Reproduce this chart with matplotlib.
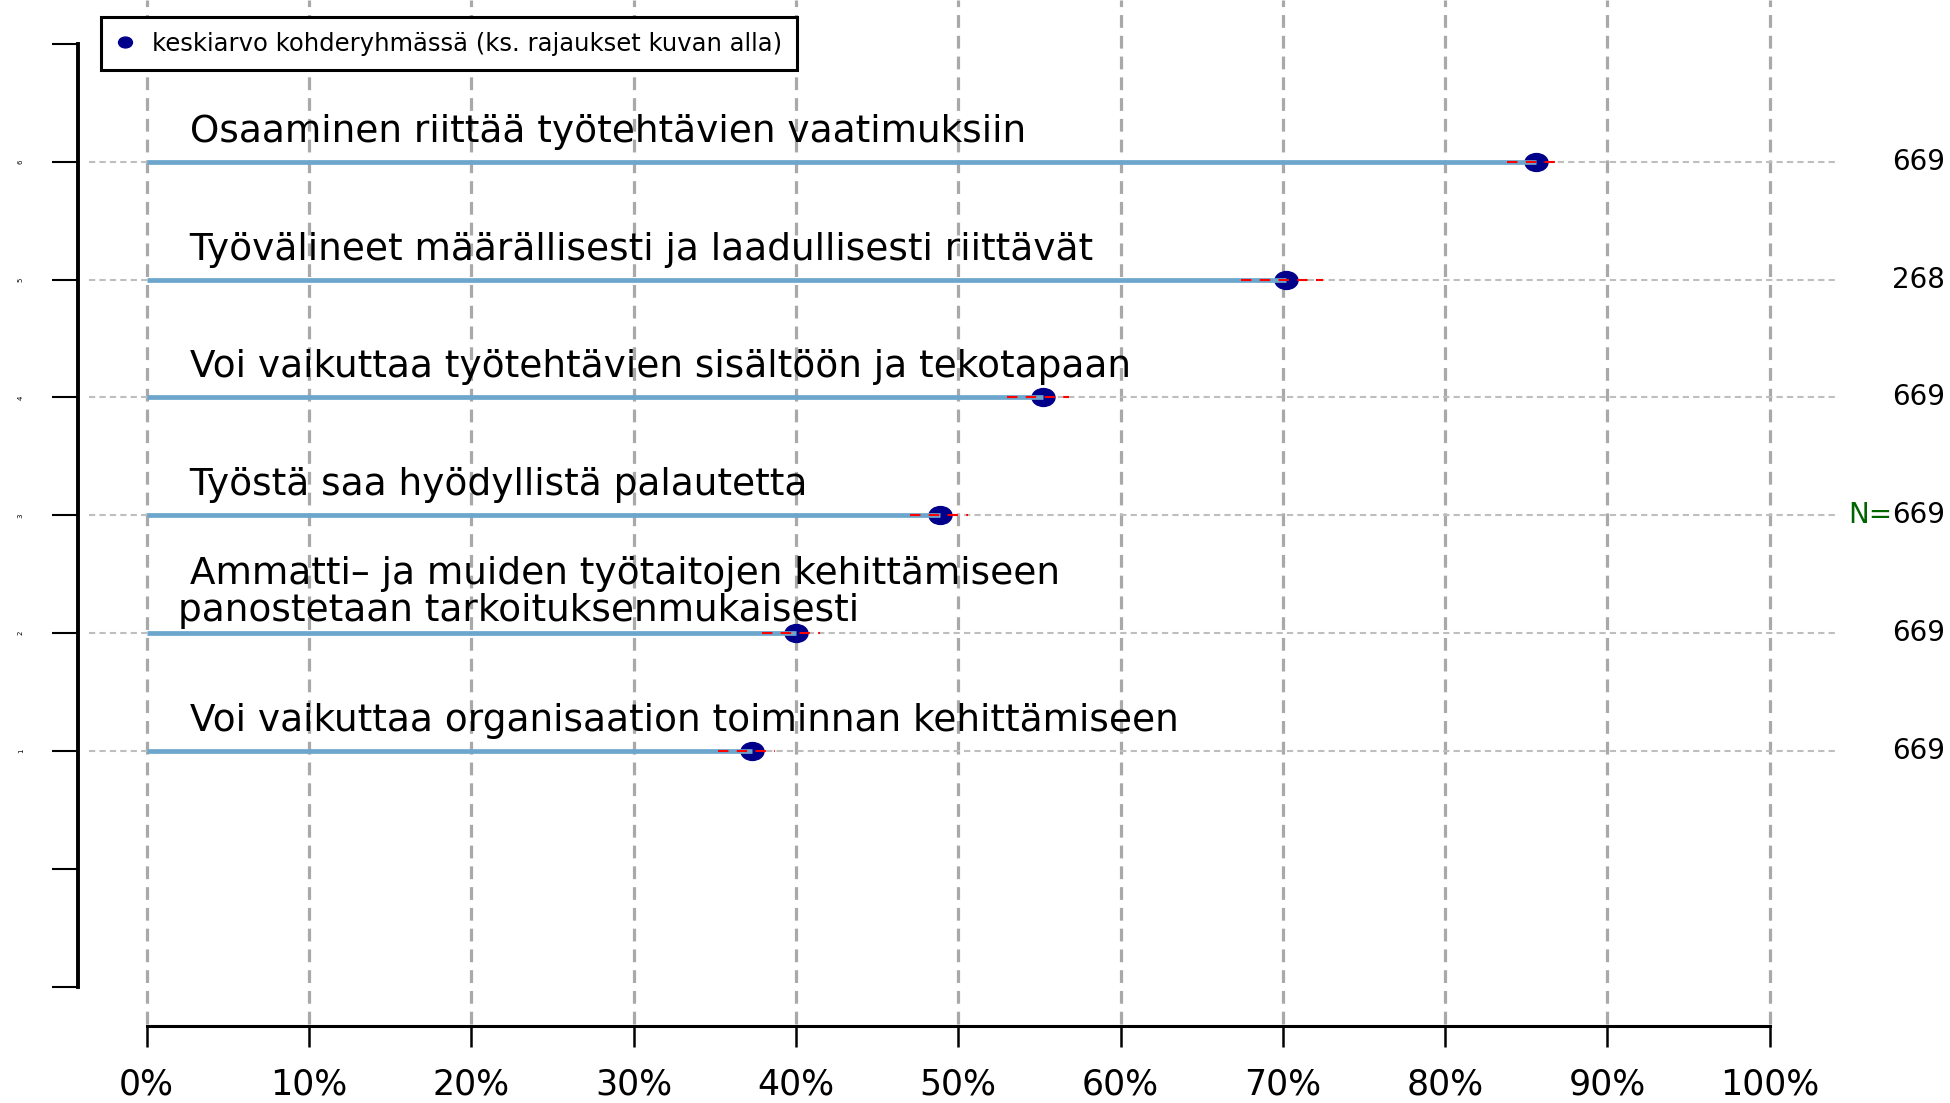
import numpy as np
import matplotlib
matplotlib.use('Agg')
import matplotlib.pyplot as plt
from matplotlib.path import Path
from matplotlib.lines import Line2D

# Data (rows from bottom to top)
labels = [
    ' Voi vaikuttaa organisaation toiminnan kehittämiseen',
    ' Ammatti– ja muiden työtaitojen kehittämiseen\npanostetaan tarkoituksenmukaisesti',
    ' Työstä saa hyödyllistä palautetta',
    ' Voi vaikuttaa työtehtävien sisältöön ja tekotapaan',
    ' Työvälineet määrällisesti ja laadullisesti riittävät',
    ' Osaaminen riittää työtehtävien vaatimuksiin',
]
keskiarvo = [37.3, 40.0, 48.9, 55.2, 70.2, 85.6]
ala_raja = [35.2, 37.9, 47.0, 53.0, 67.4, 83.8]
yla_raja = [38.7, 41.5, 50.6, 56.8, 72.5, 87.2]
n_vastaajat = [669, 669, 669, 669, 268, 669]
x_ticks = [0, 10, 20, 30, 40, 50, 60, 70, 80, 90, 100]
x_ticklabels = ['0%', '10%', '20%', '30%', '40%', '50%', '60%', '70%', '80%', '90%', '100%']
y_ticks = [-1, 0, 1, 2, 3, 4, 5, 6, 7]
y_ticklabels = ['', '', '1', '2', '3', '4', '5', '6', '']
legend_text = 'keskiarvo kohderyhmässä (ks. rajaukset kuvan alla)'

W, H = 1950, 1103
fig = plt.figure(figsize=(W / 100, H / 100), dpi=100)
ax = fig.add_axes([0, 0, 1, 1])

# pikseli -> data
px_per_x = 16.23
px_per_y = 117.86
def xd(px):
    return (px - 146.7) / px_per_x
def yd(py):
    return 1 + (751 - py) / px_per_y

ax.set_xlim(xd(0), xd(W))
ax.set_ylim(yd(H), yd(0))

rivit = np.arange(1, len(labels) + 1)

# pystysuorat apuviivat
ax.vlines(x_ticks, yd(1024), yd(0), colors='#A9A9A9', linewidth=2.3,
          linestyles=(0, (4, 2.5)), zorder=1)
# vaakasuorat pisteviivat
ax.hlines(rivit, xd(89), xd(1835), colors='#BEBEBE', linewidth=1.5,
          linestyles=(0, (3, 2)), zorder=1)

# ellipsi-merkki
ympyra = Path.unit_circle()
ellipsi = Path(ympyra.vertices * np.array([1.28, 1.0]), ympyra.codes)

ax.plot(keskiarvo, rivit, linestyle='none', marker=ellipsi, markersize=16.5,
        color='#00008B', zorder=3)
for y, m in zip(rivit, keskiarvo):
    ax.plot([0, m], [y, y], color='#6CA6CD', linewidth=3.4,
            solid_capstyle='butt', zorder=4)
for y, a, b in zip(rivit, ala_raja, yla_raja):
    ax.plot([a, b], [y, y], color='red', linewidth=1.5,
            linestyle=(0, (5, 4)), zorder=5)

# otsikot rivien yläpuolelle
fs_lab = 27
for y, lab in zip(rivit, labels):
    osat = lab.split('\n')
    if len(osat) == 1:
        ax.text(xd(178), y + 20 / px_per_y, osat[0], fontsize=fs_lab,
                family='DejaVu Sans', va='baseline', ha='left', zorder=6)
    else:
        ax.text(xd(178), y + 49 / px_per_y, osat[0], fontsize=fs_lab,
                family='DejaVu Sans', va='baseline', ha='left', zorder=6)
        ax.text(xd(178), y + 12 / px_per_y, osat[1], fontsize=fs_lab,
                family='DejaVu Sans', va='baseline', ha='left', zorder=6)

# N-arvot oikealle
for i, (y, n) in enumerate(zip(rivit, n_vastaajat)):
    t = ax.text(xd(1945), y, str(n), fontsize=20, ha='right', va='center')
    if i == 2:
        ax.annotate('N=', xy=(0, 0.5), xycoords=t, fontsize=20, ha='right',
                    va='center', color='#006400')

# akselit
for s in ['top', 'right']:
    ax.spines[s].set_visible(False)
ax.spines['bottom'].set_position(('data', yd(1026)))
ax.spines['bottom'].set_bounds(0, 100)
ax.spines['bottom'].set_linewidth(2.2)
ax.spines['left'].set_position(('data', xd(78)))
ax.spines['left'].set_bounds(-1, 7)
ax.spines['left'].set_linewidth(2.8)

ax.set_xticks(x_ticks)
ax.set_xticklabels(x_ticklabels, fontsize=25)
ax.tick_params(axis='x', direction='out', length=15, width=1.8, pad=15)
ax.set_yticks(y_ticks)
ax.set_yticklabels(y_ticklabels, fontsize=5, rotation=90, va='center')
ax.tick_params(axis='y', direction='out', length=19, width=1.5, pad=20)

# selite
kahva = Line2D([], [], linestyle='none', marker=ellipsi, markersize=10,
               color='#00008B')
leg = ax.legend([kahva], [legend_text], loc='upper left',
                bbox_to_anchor=(101 / W, 1 - 17 / H), bbox_transform=fig.transFigure,
                borderaxespad=0, fontsize=17.5, fancybox=False, framealpha=1,
                edgecolor='black', handlelength=0.8, handletextpad=0.7,
                borderpad=0.6)
leg.get_frame().set_linewidth(2.2)

fig.savefig('out.png', dpi=100)
